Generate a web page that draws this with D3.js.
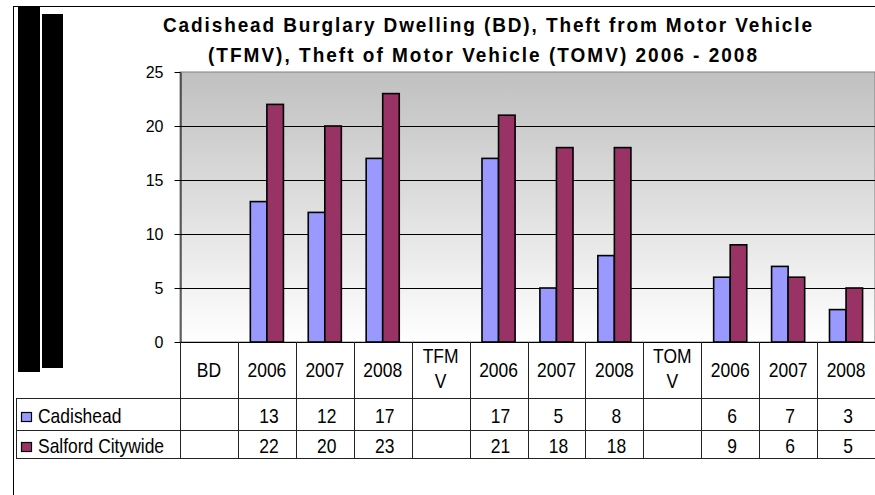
<!DOCTYPE html>
<html>
<head>
<meta charset="utf-8">
<script src="https://cdn.jsdelivr.net/npm/d3@7"></script>
<style>
  html, body { margin: 0; padding: 0; background: #fff; }
  svg { display: block; }
  text { font-family: "Liberation Sans", Arial, sans-serif; fill: #000; }
</style>
</head>
<body>
<svg id="chart" width="875" height="495"></svg>
<script>
// ---- data ----
const categories = ["BD", "2006", "2007", "2008", "TFMV", "2006", "2007", "2008", "TOMV", "2006", "2007", "2008"];
const seriesNames = ["Cadishead", "Salford Citywide"];
const cadishead = [null, 13, 12, 17, null, 17, 5, 8, null, 6, 7, 3];
const salford   = [null, 22, 20, 23, null, 21, 18, 18, null, 9, 6, 5];
const seriesColors = ["#9999FF", "#993366"];
const yTicks = [0, 5, 10, 15, 20, 25];
const titleLines = [
  "Cadishead Burglary Dwelling (BD), Theft from Motor Vehicle",
  "(TFMV), Theft of Motor Vehicle (TOMV) 2006 - 2008"
];

const seriesValues = [cadishead, salford];

const svg = d3.select("#chart");

// layout
const plotLeft = 180, plotRight = 875, plotTop = 72, plotBottom = 342;
const headerBottom = 398, row1Bottom = 430, row2Bottom = 458, tableLeft = 16;

// helper: slightly tall text like the original rendering
function tallText(g, tx, ty, str, anchor) {
  return g.append("text")
    .attr("transform", `translate(${tx},${ty}) scale(0.97,1.1)`)
    .attr("text-anchor", anchor || "start")
    .attr("font-size", 18)
    .text(str);
}

// outer frame
svg.append("line").attr("x1", 13.5).attr("x2", 13.5).attr("y1", 6).attr("y2", 495).attr("stroke", "#000");
svg.append("line").attr("x1", 13).attr("x2", 875).attr("y1", 6.5).attr("y2", 6.5).attr("stroke", "#000");

// black blocks on the left
svg.append("rect").attr("x", 18).attr("y", 7).attr("width", 22).attr("height", 365).attr("fill", "#000");
svg.append("rect").attr("x", 42).attr("y", 14).attr("width", 21).attr("height", 354).attr("fill", "#000");

// title
const titleX = [163, 208], titleY = [32, 62], titleLen = [649, 549];
titleLines.forEach((t, i) => {
  svg.append("text")
    .attr("transform", `translate(${titleX[i]},${titleY[i]}) scale(1,1.05)`)
    .attr("font-size", 19).attr("font-weight", "bold")
    .attr("textLength", titleLen[i]).attr("lengthAdjust", "spacing")
    .text(t);
});

// scales
const x = d3.scaleBand().domain(d3.range(categories.length)).range([plotLeft, plotRight]);
const bw = x.bandwidth();
const barW = bw / 3.5;
const x1 = d3.scaleBand().domain(d3.range(seriesNames.length)).range([0, barW * 2]);
const y = d3.scaleLinear().domain([0, 25]).range([plotBottom, plotTop]);

// gradient background
const defs = svg.append("defs");
const grad = defs.append("linearGradient").attr("id", "bg").attr("x1", 0).attr("y1", 0).attr("x2", 0).attr("y2", 1);
grad.append("stop").attr("offset", "0%").attr("stop-color", "#c0c0c0");
grad.append("stop").attr("offset", "100%").attr("stop-color", "#ffffff");

svg.append("rect")
  .attr("x", plotLeft).attr("y", plotTop)
  .attr("width", plotRight - plotLeft).attr("height", plotBottom - plotTop)
  .attr("fill", "url(#bg)").attr("stroke", "#808080").attr("stroke-width", 1);

// gridlines
svg.append("g").selectAll("line")
  .data(yTicks.filter(d => d > 0 && d < 25))
  .join("line")
  .attr("x1", plotLeft).attr("x2", plotRight)
  .attr("y1", d => Math.round(y(d)) + 0.5).attr("y2", d => Math.round(y(d)) + 0.5)
  .attr("stroke", "#000");

// bars
seriesValues.forEach((vals, si) => {
  svg.append("g").selectAll("rect")
    .data(vals.map((v, i) => ({ v, i })).filter(d => d.v != null))
    .join("rect")
    .attr("x", d => x(d.i) + (bw - barW * 2) / 2 + x1(si))
    .attr("y", d => y(d.v))
    .attr("width", barW)
    .attr("height", d => y(0) - y(d.v))
    .attr("fill", seriesColors[si])
    .attr("stroke", "#000").attr("stroke-width", 1.6);
});

// y axis
const yAxis = d3.axisLeft(y).tickValues(yTicks).tickSize(6).tickSizeOuter(0).tickPadding(11);
const ga = svg.append("g").attr("transform", `translate(${plotLeft + 0.5},0)`).call(yAxis);
ga.select(".domain").attr("stroke", "#000");
ga.selectAll(".tick line").attr("stroke", "#000");
ga.selectAll(".tick text").attr("font-size", 16).attr("font-family", '"Liberation Sans", Arial, sans-serif');
ga.selectAll(".tick").attr("transform", d => `translate(0,${Math.round(y(d)) + 0.5})`);

// zero axis line
svg.append("line").attr("x1", plotLeft).attr("x2", plotRight)
  .attr("y1", plotBottom + 0.5).attr("y2", plotBottom + 0.5).attr("stroke", "#000");

// data table
const tbl = svg.append("g");
const lineColor = "#222";
const bounds = d3.range(categories.length + 1).map(i => i < categories.length ? x(i) : plotRight);
bounds.forEach(b => {
  tbl.append("line").attr("x1", Math.round(b) + 0.5).attr("x2", Math.round(b) + 0.5)
    .attr("y1", plotBottom).attr("y2", row2Bottom).attr("stroke", lineColor);
});
tbl.append("line").attr("x1", tableLeft + 0.5).attr("x2", tableLeft + 0.5)
  .attr("y1", headerBottom).attr("y2", row2Bottom).attr("stroke", lineColor);
[headerBottom, row1Bottom, row2Bottom].forEach(yy => {
  tbl.append("line").attr("x1", tableLeft).attr("x2", plotRight)
    .attr("y1", yy + 0.5).attr("y2", yy + 0.5).attr("stroke", lineColor);
});

// header labels (4-letter codes wrap after 3 letters, as in the original)
categories.forEach((c, i) => {
  const cx = x(i) + bw / 2;
  const lines = /^[A-Z]{4}$/.test(c) ? [c.slice(0, 3), c.slice(3)] : [c];
  if (lines.length === 1) {
    tallText(tbl, cx, 377, lines[0], "middle");
  } else {
    lines.forEach((l, k) => tallText(tbl, cx, 363 + k * 25, l, "middle"));
  }
});

// rows
const rowBase = [423, 453];
seriesNames.forEach((name, si) => {
  tbl.append("rect").attr("x", 21.5).attr("y", rowBase[si] - 10.5).attr("width", 10).attr("height", 9)
    .attr("fill", seriesColors[si]).attr("stroke", "#000").attr("stroke-width", 1.2);
  tallText(tbl, 38, rowBase[si], name, "start");
  seriesValues[si].forEach((v, i) => {
    if (v == null) return;
    tallText(tbl, x(i) + bw / 2 + 2, rowBase[si], v, "middle");
  });
});
</script>
</body>
</html>
